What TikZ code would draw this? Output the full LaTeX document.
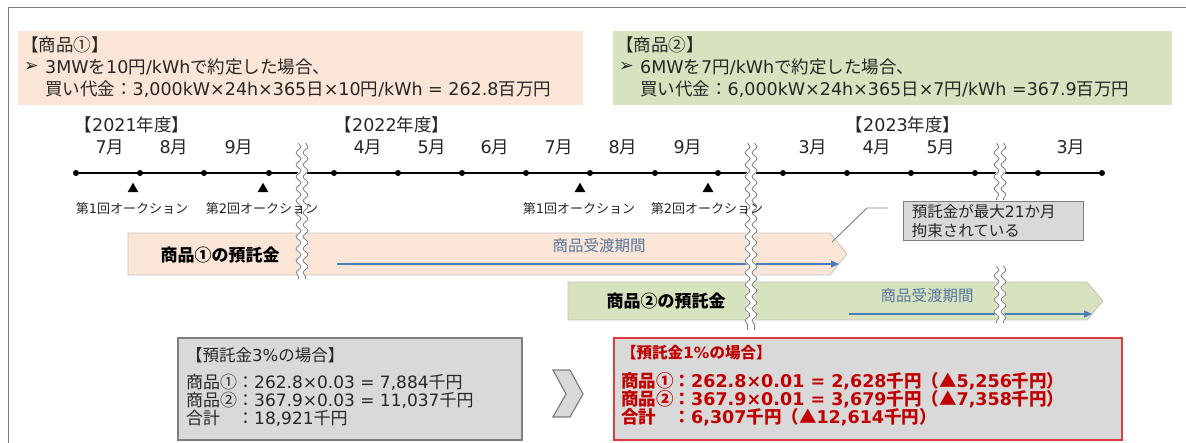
\documentclass[tikz,border=0pt]{standalone}
\usepackage{fontspec}
\setmainfont{DejaVu Sans}
\newfontfamily\cjkfam{Noto Sans CJK JP}
\newfontfamily\latfam{DejaVu Sans}
\usetikzlibrary{decorations.pathmorphing,arrows.meta,shapes.geometric}
\XeTeXinterchartokenstate=1
\newXeTeXintercharclass\cjkcls
\makeatletter
\count@="3000 \loop \XeTeXcharclass\count@=\cjkcls \ifnum\count@<"9FFF \advance\count@ 1 \repeat
\count@="FF00 \loop \XeTeXcharclass\count@=\cjkcls \ifnum\count@<"FFEF \advance\count@ 1 \repeat
\count@="2460 \loop \XeTeXcharclass\count@=\cjkcls \ifnum\count@<"24FF \advance\count@ 1 \repeat
\XeTeXcharclass"25B2=\cjkcls
\makeatother
\XeTeXinterchartoks 0 \cjkcls={\cjkfam}
\XeTeXinterchartoks 4095 \cjkcls={\cjkfam}
\XeTeXinterchartoks \cjkcls 0={\latfam}
\definecolor{peach}{HTML}{FBE5D6}
\definecolor{sage}{HTML}{D7E3BF}
\definecolor{boxgray}{HTML}{D9D9D9}
\definecolor{edgegray}{HTML}{7F7F7F}
\definecolor{baredge}{HTML}{C4C4C4}
\definecolor{redtxt}{HTML}{C00000}
\definecolor{redline}{HTML}{DF3A40}
\definecolor{bluearr}{HTML}{4A7EBB}
\definecolor{bluetxt}{HTML}{5877A0}
\definecolor{txt}{HTML}{262626}
\newcommand\brkmark[3]{%
  \draw[white, line width=7, decorate, decoration={snake, segment length=12, amplitude=2.4}] (#1,#2) -- (#1,#3);
  \draw[edgegray, line width=0.8, decorate, decoration={snake, segment length=12, amplitude=2.4}] (#1-3.5,#2) -- (#1-3.5,#3);
  \draw[edgegray, line width=0.8, decorate, decoration={snake, segment length=12, amplitude=2.4}] (#1+3.5,#2) -- (#1+3.5,#3);}
\begin{document}
\begin{tikzpicture}[x=1pt,y=-1pt,
  every node/.style={inner sep=0pt, text=txt},
  ln/.style={anchor=west, font=\fontsize{17.5}{20}\selectfont},
  mon/.style={font=\fontsize{17.5}{20}\selectfont},
  auc/.style={font=\fontsize{13}{15}\selectfont},
  tdot/.style={circle, fill=black, minimum size=6},
  tri/.style={regular polygon, regular polygon sides=3, fill=black, minimum size=12.5},
  bartxt/.style={font=\bfseries\fontsize{17}{20}\selectfont, text=black},
  deltxt/.style={font=\fontsize{15.5}{18}\selectfont, text=bluetxt},
  barr/.style={bluearr, line width=1.3, -{Triangle[length=8,width=7]}},
  gl/.style={anchor=west, font=\fontsize{17}{18}\selectfont, text=txt},
  rl/.style={anchor=west, font=\bfseries\fontsize{17.5}{18}\selectfont, text=redtxt}]
\useasboundingbox (0,0) rectangle (1186,443);
% outer frame
\draw[edgegray, line width=1.2] (8.5,443) -- (8.5,7.5) -- (1186,7.5);
% top boxes
\fill[peach] (18,31) rectangle (583,105);
\node[ln] (p1a) at (21,45) {【商品①】};
\node[ln] (p1b) at (24,67) {\latfam ➢};
\node[ln] (p1c) at (45,67) {3MWを10円/kWhで約定した場合、};
\node[ln] (p1d) at (45,89) {買い代金：3,000kW×24h×365日×10円/kWh = 262.8百万円};
\fill[sage] (613,31) rectangle (1172,105);
\node[ln] (p2a) at (616,45) {【商品②】};
\node[ln] (p2b) at (619,67) {\latfam ➢};
\node[ln] (p2c) at (640,67) {6MWを7円/kWhで約定した場合、};
\node[ln] (p2d) at (640,89) {買い代金：6,000kW×24h×365日×7円/kWh =367.9百万円};
% year labels
\node[mon] (y21) at (132,125) {【2021年度】};
\node[mon] (y22) at (392,125) {【2022年度】};
\node[mon] (y23) at (903,125) {【2023年度】};
% timeline
\foreach \i/\x in {1/76,2/140,3/204,4/269,5/334,6/398,7/462,8/526,9/590,10/655,11/718,12/783,13/847,14/911,15/975,16/1038,17/1102}
  \node[tdot] (d\i) at (\x,173) {};
\draw[black, line width=1.3] (d1) -- (d17);
% month labels
\foreach \n/\x/\t in {m1/110/7月,m2/174/8月,m3/239/9月,m4/368/4月,m5/432/5月,m6/495/6月,m7/559/7月,m8/623/8月,m9/688/9月,m10/813/3月,m11/877/4月,m12/941/5月,m13/1071/3月}
  \node[mon] (\n) at (\x,147) {\t};
% triangles
\node[tri] (t1) at (133,189) {};
\node[tri] (t2) at (263,189) {};
\node[tri] (t3) at (580,189) {};
\node[tri] (t4) at (708,189) {};
% bars
\filldraw[fill=peach, draw=baredge, line width=0.8] (128,233) -- (830,233) -- (847,254) -- (830,275) -- (128,275) -- cycle;
\filldraw[fill=sage, draw=baredge, line width=0.8] (568,282) -- (1087,282) -- (1103,301) -- (1087,320) -- (568,320) -- cycle;
\node[bartxt] (b1) at (220,255) {商品①の預託金};
\node[bartxt] (b2) at (666,301) {商品②の預託金};
\node[deltxt] (dl1) at (599,246) {商品受渡期間};
\node[deltxt] (dl2) at (927,296) {商品受渡期間};
\coordinate (a1s) at (337,264);
\coordinate (a1e) at (839,264);
\coordinate (a2s) at (849,314);
\coordinate (a2e) at (1092,314);
\draw[barr] (a1s) -- (a1e);
\draw[barr] (a2s) -- (a2e);
% breaks
\brkmark{302}{143}{279}
\brkmark{751}{143}{330}
\brkmark{1000}{143}{200}
\brkmark{1000}{266}{323}
% auction labels
\node[auc] (l1) at (132,209) {第1回オークション};
\node[auc] (l2) at (262,209) {第2回オークション};
\node[auc] (l3) at (579,209) {第1回オークション};
\node[auc] (l4) at (707,209) {第2回オークション};
% callout
\node[anchor=north west, fill=boxgray, draw=edgegray, line width=0.8, minimum width=180, minimum height=39, text width=163, inner xsep=8.5, align=left, font=\fontsize{15.5}{19}\selectfont] (cb) at (903,201) {預託金が最大21か月\\拘束されている};
\coordinate (c1) at (888,208);
\coordinate (c2) at (867,208);
\coordinate (c3) at (832,242);
\draw[edgegray, line width=0.9] (c1) -- (c2) -- (c3);
% bottom gray box
\filldraw[fill=boxgray, draw=edgegray, line width=2] (178,338) rectangle (522,440);
\node[gl, font=\fontsize{16.5}{18}\selectfont] (g1) at (186,355) {【預託金3\%の場合】};
\node[gl] (g2) at (186,382) {商品①：262.8×0.03 = 7,884千円};
\node[gl] (g3) at (186,400) {商品②：367.9×0.03 = 11,037千円};
\node[gl] (g4) at (186,418) {\makebox[3em][l]{合計}：18,921千円};
% chevron
\filldraw[fill=boxgray, draw=edgegray, line width=1.2] (553,370) -- (570,370) -- (583,394) -- (570,417) -- (553,417) -- (566,394) -- cycle;
% red box
\filldraw[fill=boxgray, draw=redline, line width=2] (614,338) rectangle (1122,440);
\node[rl, font=\bfseries\fontsize{15.5}{18}\selectfont] (r1) at (621,353) {【預託金1\%の場合】};
\node[rl] (r2) at (621,381) {商品①：262.8×0.01 = 2,628千円（▲5,256千円）};
\node[rl] (r3) at (621,399) {商品②：367.9×0.01 = 3,679千円（▲7,358千円）};
\node[rl] (r4) at (621,417) {\makebox[3em][l]{合計}：6,307千円（▲12,614千円）};
\end{tikzpicture}
\end{document}
